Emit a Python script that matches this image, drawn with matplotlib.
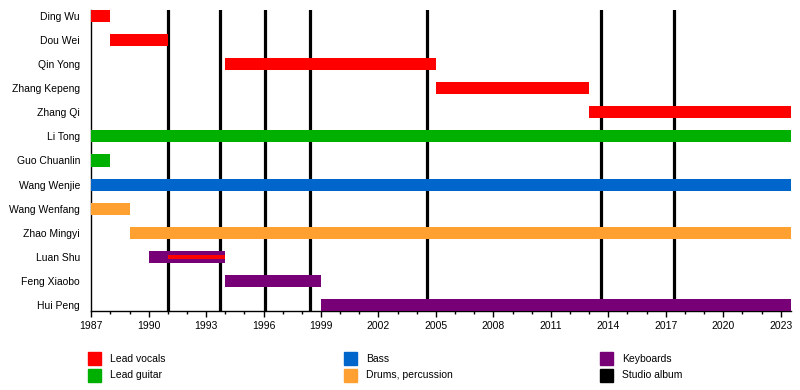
import matplotlib
matplotlib.use("Agg")
import matplotlib.pyplot as plt
from matplotlib.patches import Rectangle
from matplotlib.ticker import MultipleLocator

plt.rcParams['font.family'] = ['Liberation Sans', 'DejaVu Sans']

# band members, top to bottom
members = ["Ding Wu", "Dou Wei", "Qin Yong", "Zhang Kepeng", "Zhang Qi",
           "Li Tong", "Guo Chuanlin", "Wang Wenjie", "Wang Wenfang",
           "Zhao Mingyi", "Luan Shu", "Feng Xiaobo", "Hui Peng"]
END = 2023.55
starts = [1987, 1988, 1994, 2005, 2013, 1987, 1987, 1987, 1987, 1989, 1990, 1994, 1999]
ends = [1988, 1991, 2005, 2013, END, END, 1988, END, 1989, END, 1994, 1999, END]
roles = ["vocals", "vocals", "vocals", "vocals", "vocals", "guitar", "guitar",
         "bass", "drums", "drums", "keys", "keys", "keys"]

# secondary role stripe (Luan Shu also on lead vocals)
stripe_member = "Luan Shu"
stripe_start, stripe_end = 1991, 1994

albums = [1991.0, 1993.73, 1996.08, 1998.4, 2004.55, 2013.6, 2017.41]
year_ticks = list(range(1987, 2024, 3))

colors = {"vocals": "#ff0000", "guitar": "#00b000", "bass": "#0066cc",
          "drums": "#ffa030", "keys": "#770077", "album": "#000000"}
legend_labels = [("vocals", "Lead vocals"), ("guitar", "Lead guitar"),
                 ("bass", "Bass"), ("drums", "Drums, percussion"),
                 ("keys", "Keyboards"), ("album", "Studio album")]

fig = plt.figure(figsize=(8, 3.9), dpi=100)
ax = fig.add_axes([0.114, 0.2026, 0.875, 0.7718])

for i, (m, s, e, r) in enumerate(zip(members, starts, ends, roles)):
    ax.barh(i, e - s, left=s, height=0.5, color=colors[r], zorder=3)
    if m == stripe_member:
        ax.barh(i, stripe_end - stripe_start, left=stripe_start, height=0.15,
                color=colors["vocals"], zorder=4)

for a in albums:
    ax.axvline(a, color="black", lw=2.3, zorder=2)

ax.set_xlim(1987, END)
ax.set_ylim(len(members) - 0.75, -0.25)
ax.set_yticks(range(len(members)))
ax.set_yticklabels(members)
ax.set_xticks(year_ticks)
ax.xaxis.set_minor_locator(MultipleLocator(1))
ax.tick_params(axis="y", length=0, pad=8, labelsize=7.5)
ax.tick_params(axis="x", which="major", length=4, width=1, labelsize=7.5, pad=3)
ax.tick_params(axis="x", which="minor", length=2, width=1)
for side in ["top", "right"]:
    ax.spines[side].set_visible(False)
ax.spines["left"].set_linewidth(1)
ax.spines["bottom"].set_linewidth(1)

# legend, three columns of two rows
col_x = [88, 344, 600]
row_y = [352, 369]
for k, (key, label) in enumerate(legend_labels):
    x = col_x[k // 2]
    y = row_y[k % 2]
    fig.add_artist(Rectangle((x / 800, 1 - (y + 13) / 390), 13 / 800, 13 / 390,
                             transform=fig.transFigure, color=colors[key]))
    fig.text((x + 22) / 800, 1 - (y + 6.5) / 390, label, fontsize=7.5,
             va="center", ha="left")

fig.savefig("out.png", dpi=100)
